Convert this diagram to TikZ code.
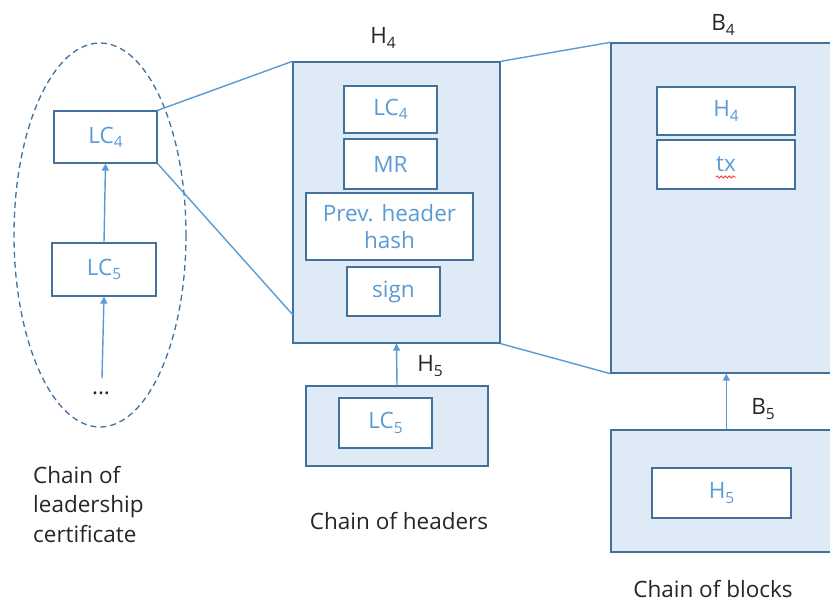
\documentclass[tikz,border=0pt]{standalone}
\usepackage{fontspec}
\setmainfont{Open Sans}
\usetikzlibrary{arrows.meta,calc,decorations.pathmorphing}
\definecolor{boxline}{HTML}{41719C}
\definecolor{boxfill}{HTML}{DEEBF7}
\definecolor{lineblue}{HTML}{5B9BD5}
\definecolor{txtblue}{HTML}{5B9BD5}
\definecolor{txtdark}{HTML}{262626}
\newcommand{\lowidx}[1]{\raisebox{-0.35ex}{\fontsize{15.5}{15.5}\selectfont #1}}
\begin{document}
\begin{tikzpicture}[x=1pt,y=-1pt,
  outerbox/.style={draw=boxline,line width=1.3pt,fill=boxfill,rectangle,inner sep=0pt},
  innerbox/.style={draw=boxline,line width=1.3pt,fill=white,rectangle,inner sep=0pt,
    text=txtblue,font=\fontsize{22.5}{28}\selectfont,align=center},
  darklabel/.style={text=txtdark,font=\fontsize{22.5}{29.5}\selectfont,inner sep=0pt},
  conn/.style={draw=lineblue,line width=1.4pt},
  arr/.style={draw=lineblue,line width=1.4pt,-{Triangle[width=7pt,length=7pt]}}]
\useasboundingbox (0,0) rectangle (830,602);
\clip (0,0) rectangle (830,602);
\fill[white] (0,0) rectangle (830,602);

% ---- chain of leadership certificates
\draw[boxline,line width=1.3pt,dash pattern=on 6pt off 4pt] (100,235) ellipse [x radius=86, y radius=192];
\node[innerbox,minimum width=103pt,minimum height=52pt] (lc4l) at (105.5,137) {LC\lowidx{4}};
\node[innerbox,minimum width=104pt,minimum height=53pt] (lc5l) at (104,269.5) {LC\lowidx{5}};
\node[darklabel] (dots) at (101,393) {...};
\coordinate (dtop) at (102,378);
\draw[arr] (lc5l.north) -- (lc4l.south);
\draw[arr] (dtop) -- (lc5l.south);
\node[darklabel,align=left,anchor=north west] (lcap) at (33,466) {Chain of\\leadership\\certificate};

% ---- chain of headers
\node[outerbox,minimum width=207pt,minimum height=281pt] (h4) at (396.5,202.5) {};
\node[darklabel] (h4lab) at (383,38) {H\lowidx{4}};
\node[innerbox,minimum width=93pt,minimum height=47pt] (hlc4) at (390.5,109.5) {LC\lowidx{4}};
\node[innerbox,minimum width=93pt,minimum height=50pt] (mr) at (390.5,164) {MR};
\node[innerbox,minimum width=167pt,minimum height=67pt] (prev) at (389.5,226.5) {Prev. header\\[-1pt]hash};
\node[innerbox,minimum width=93pt,minimum height=49pt] (sign) at (393.5,291.5) {sign};

\node[outerbox,minimum width=182pt,minimum height=80pt] (h5) at (397,426) {};
\node[innerbox,minimum width=93pt,minimum height=50pt] (hlc5) at (385.5,423) {LC\lowidx{5}};
\node[darklabel] (h5lab) at (430,366) {H\lowidx{5}};
\draw[arr] (h5.north) -- (h4.south);
\node[darklabel] (hcap) at (399,521) {Chain of headers};

\coordinate (h4mid) at (293,315);
\draw[conn] (lc4l.north east) -- (h4.north west);
\draw[conn] (lc4l.south east) -- (h4mid);

% ---- chain of blocks
\node[outerbox,minimum width=239pt,minimum height=330pt] (b4) at (730.5,208) {};
\node[darklabel] (b4lab) at (723,25) {B\lowidx{4}};
\node[innerbox,minimum width=138pt,minimum height=48pt] (bh4) at (726,111) {H\lowidx{4}};
\node[innerbox,minimum width=138pt,minimum height=49pt] (tx) at (726,164.5) {tx};
\draw[red!80,line width=0.8pt,decorate,decoration={snake,amplitude=1pt,segment length=4pt}] (716,177) -- (736,177);

\node[outerbox,minimum width=239pt,minimum height=122pt] (b5) at (730.5,491) {};
\node[innerbox,minimum width=139pt,minimum height=50pt] (bh5) at (721.5,493) {H\lowidx{5}};
\node[darklabel] (b5lab) at (763,409) {B\lowidx{5}};
\draw[arr] ($(b5.north west)+(116,0)$) -- ($(b4.south west)+(116,0)$);
\node[darklabel] (bcap) at (713,589) {Chain of blocks};

\draw[conn] (h4.north east) -- (b4.north west);
\draw[conn] (h4.south east) -- (b4.south west);
\end{tikzpicture}
\end{document}
